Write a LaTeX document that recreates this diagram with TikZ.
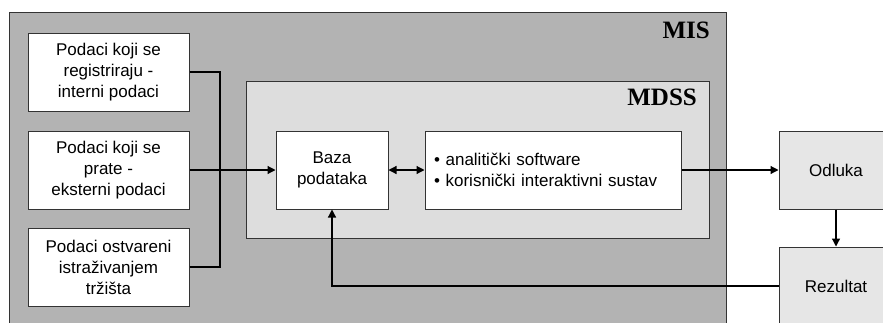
\documentclass[tikz,border=0pt]{standalone}
\usepackage{fontspec}
\setmainfont{Liberation Sans}
\newfontfamily\titlefont{Liberation Serif}
\usetikzlibrary{arrows.meta}
\definecolor{misgray}{HTML}{B3B3B3}
\definecolor{mdssgray}{HTML}{DDDDDD}
\definecolor{outgray}{HTML}{E6E6E6}
\definecolor{edgegray}{HTML}{333333}
\tikzset{
  whitebox/.style={draw=edgegray, line width=1pt, fill=white, inner sep=0pt, align=center,
    font=\fontsize{17}{21}\selectfont},
  outbox/.style={whitebox, fill=outgray},
  conn/.style={line width=1.2pt, draw=black},
  arr/.style={conn, -{Triangle[length=8pt,width=8pt]}},
  darr/.style={conn, {Triangle[length=8pt,width=8pt]}-{Triangle[length=8pt,width=8pt]}},
  syslabel/.style={font=\titlefont\bfseries\fontsize{25}{28}\selectfont, anchor=base east, inner sep=0pt}
}
\begin{document}
\begin{tikzpicture}[x=1pt,y=-1pt]
\useasboundingbox (0,0) rectangle (883,322);
\clip (0,0) rectangle (883,322);
% MIS
\node[draw=edgegray, line width=1pt, fill=misgray, minimum width=717pt, minimum height=340pt, inner sep=0pt, anchor=north west] (mis) at (9,12) {};
\node[syslabel] (mislabel) at (710,38) {MIS};
% MDSS
\node[draw=edgegray, line width=1pt, fill=mdssgray, minimum width=463pt, minimum height=157pt, inner sep=0pt, anchor=north west] (mdss) at (246,81) {};
\node[syslabel] (mdsslabel) at (697,105) {MDSS};
% input boxes
\node[whitebox, minimum width=161pt, minimum height=78pt] (in1) at (108.5,72) {Podaci koji se\\registriraju -\\interni podaci};
\node[whitebox, minimum width=161pt, minimum height=78pt] (in2) at (108.5,170) {Podaci koji se\\prate -\\eksterni podaci};
\node[whitebox, minimum width=161pt, minimum height=78pt] (in3) at (108.5,267) {Podaci ostvareni\\istraživanjem\\tržišta};
% inner boxes
\node[whitebox, minimum width=112pt, minimum height=78pt] (baza) at (332,170) {Baza\\podataka};
\node[whitebox, minimum width=256pt, minimum height=78pt, align=left, text width=238pt] (soft) at (553,170) {• analitički software\\• korisnički interaktivni sustav};
% outputs
\node[outbox, minimum width=114pt, minimum height=78pt] (odluka) at (836,170) {Odluka};
\node[outbox, minimum width=114pt, minimum height=78pt] (rez) at (836,286) {Rezultat};
% connectors
\coordinate (jn) at (220,170);
\draw[conn] (in1.east) -| (jn);
\draw[conn] (in3.east) -| (jn);
\draw[arr] (in2.east) -- (baza.west);
\draw[darr] (baza.east) -- (soft.west);
\draw[arr] (soft.east) -- (odluka.west);
\draw[arr] (odluka.south) -- (rez.north);
\draw[arr] (rez.west) -| (baza.south);
\end{tikzpicture}
\end{document}
